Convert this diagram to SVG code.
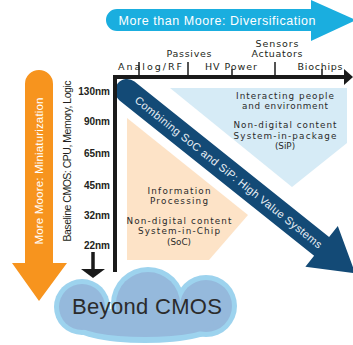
<svg xmlns="http://www.w3.org/2000/svg" width="353" height="345" viewBox="0 0 353 345">
  <style>
    text { font-family: "Liberation Sans", Arial, sans-serif; }
    .axis-lbl { font-family: "DejaVu Sans", "Liberation Sans", sans-serif; font-size: 9.5px; fill: #231f20; }
    .nm { font-size: 10px; font-weight: bold; fill: #231f20; text-anchor: end; }
    .body { font-family: "DejaVu Sans", "Liberation Sans", sans-serif; font-size: 8.8px; fill: #2a2a2a; text-anchor: middle; }
    .white { fill: #ffffff; }
    .axis { fill: none; stroke: #1a1a1a; stroke-width: 4; stroke-linejoin: miter; }
    .tick { stroke: #1a1a1a; stroke-width: 1.5; }
  </style>

  <rect width="353" height="345" fill="#ffffff"/>

  <!-- SiP area (light blue) -->
  <g id="sip">
    <polygon points="170,88 347,88 347,143 292,187" fill="#d6ebf6"/>
    <text class="body" x="285" y="99" textLength="98" lengthAdjust="spacing">Interacting people</text>
    <text class="body" x="285" y="109" textLength="86" lengthAdjust="spacing">and environment</text>
    <text class="body" x="285" y="128" textLength="103" lengthAdjust="spacing">Non-digital content</text>
    <text class="body" x="285" y="138.5" textLength="103" lengthAdjust="spacing">System-in-package</text>
    <text class="body" x="285" y="149">(SiP)</text>
  </g>

  <!-- SoC area (peach) -->
  <g id="soc">
    <polygon points="127,118 248,215 209,260 127,260" fill="#fde3c7"/>
    <text class="body" x="179" y="194" textLength="63" lengthAdjust="spacing">Information</text>
    <text class="body" x="179" y="204" textLength="58" lengthAdjust="spacing">Processing</text>
    <text class="body" x="179" y="223.5" textLength="105" lengthAdjust="spacing">Non-digital content</text>
    <text class="body" x="179" y="234" textLength="82" lengthAdjust="spacing">System-in-Chip</text>
    <text class="body" x="179" y="245">(SoC)</text>
  </g>

  <!-- Diagonal arrow: combining SoC and SiP -->
  <g id="high-value" transform="translate(127,91) rotate(38.6)">
    <path d="M0,-12 L249,-12 L249,-26 L292,0 L249,26 L249,12 L0,12 A12,12 0 0 1 0,-12 Z" fill="#134a76"/>
    <text x="130" y="4" font-size="11" fill="#e8eef4" text-anchor="middle" textLength="236" lengthAdjust="spacing">Combining SoC and SiP: High Value Systems</text>
  </g>

  <!-- More than Moore arrow (top) -->
  <g id="more-than-moore">
    <path d="M117,9 L311,9 L311,0 L356,20 L311,41 L311,31 L117,31 A11,11 0 0 1 117,9 Z" fill="#1aaedf"/>
    <text class="white" x="217" y="25" font-size="12.5" text-anchor="middle" textLength="197" lengthAdjust="spacing">More than Moore: Diversification</text>
  </g>

  <!-- More Moore arrow (left) -->
  <g id="more-moore">
    <path d="M25,84 A14,14 0 0 1 53,84 L53,263 L67,263 L39,301 L12,263 L25,263 Z" fill="#f7941e"/>
    <text class="white" transform="translate(43,171) rotate(-90)" x="0" y="0" font-size="11.5" text-anchor="middle" textLength="147" lengthAdjust="spacing">More Moore: Miniaturization</text>
  </g>

  <!-- Baseline CMOS axis label -->
  <g id="baseline">
    <text transform="translate(71,161) rotate(-90)" x="0" y="0" font-size="10.5" fill="#231f20" text-anchor="middle" textLength="161" lengthAdjust="spacing">Baseline CMOS: CPU, Memory, Logic</text>
  </g>

  <!-- Technology nodes -->
  <g id="nodes">
    <text class="nm" x="110" y="95">130nm</text>
    <text class="nm" x="110" y="125">90nm</text>
    <text class="nm" x="110" y="157">65nm</text>
    <text class="nm" x="110" y="189">45nm</text>
    <text class="nm" x="110" y="219">32nm</text>
    <text class="nm" x="110" y="249">22nm</text>
  </g>

  <!-- Diversification categories -->
  <g id="categories">
    <text class="axis-lbl" x="277" y="47" text-anchor="middle" textLength="43" lengthAdjust="spacing">Sensors</text>
    <text class="axis-lbl" x="277" y="57" text-anchor="middle" textLength="51" lengthAdjust="spacing">Actuators</text>
    <text class="axis-lbl" x="189" y="57" text-anchor="middle" textLength="45" lengthAdjust="spacing">Passives</text>
    <text class="axis-lbl" x="150" y="70" text-anchor="middle" textLength="64" lengthAdjust="spacing">Analog/RF</text>
    <text class="axis-lbl" x="231" y="70" text-anchor="middle" textLength="52" lengthAdjust="spacing">HV Power</text>
    <text class="axis-lbl" x="320" y="70" text-anchor="middle" textLength="45" lengthAdjust="spacing">Biochips</text>
  </g>

  <!-- Axes, ticks and the node-scaling arrow -->
  <g id="connectors">
    <path class="axis" d="M115,272 V77 H346"/>
    <polygon points="344,69 353,77 344,85" fill="#1a1a1a"/>
    <line class="tick" x1="139" y1="62" x2="139" y2="76"/>
    <line class="tick" x1="188" y1="62" x2="188" y2="76"/>
    <line class="tick" x1="232" y1="69" x2="232" y2="76"/>
    <line class="tick" x1="275" y1="62" x2="275" y2="76"/>
    <line class="tick" x1="322" y1="69" x2="322" y2="76"/>
    <line x1="93" y1="252" x2="93" y2="270" stroke="#1a1a1a" stroke-width="3.5"/>
    <polygon points="81,269 105,269 93,278" fill="#1a1a1a"/>
  </g>

  <!-- Beyond CMOS cloud -->
  <g id="beyond-cmos">
    <g fill="#9dd3ee">
      <circle cx="82" cy="307" r="28"/>
      <circle cx="148" cy="304" r="37"/>
      <circle cx="206" cy="306" r="31"/>
      <ellipse cx="145" cy="325" rx="74" ry="18"/>
    </g>
    <g fill="#95b9dc">
      <circle cx="82" cy="307" r="23"/>
      <circle cx="148" cy="304" r="32"/>
      <circle cx="206" cy="306" r="26"/>
      <ellipse cx="145" cy="323" rx="69" ry="14"/>
    </g>
    <text x="147" y="314" font-size="22" fill="#2b2b2b" text-anchor="middle" textLength="150" lengthAdjust="spacing">Beyond CMOS</text>
  </g>
</svg>
